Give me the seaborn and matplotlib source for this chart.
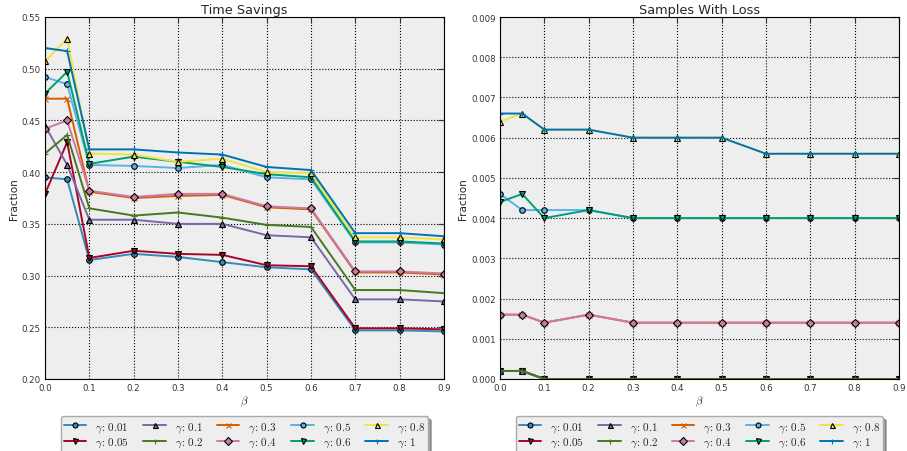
import matplotlib
matplotlib.use("Agg")
import matplotlib.pyplot as plt
import seaborn as sns
import pandas as pd

beta = [0.0, 0.05, 0.1, 0.2, 0.3, 0.4, 0.5, 0.6, 0.7, 0.8, 0.9]
gammas = ["0.01", "0.05", "0.1", "0.2", "0.3", "0.4", "0.5", "0.6", "0.8", "1"]

time_savings = {
    "0.01": [0.395, 0.393, 0.315, 0.321, 0.318, 0.313, 0.308, 0.306, 0.247, 0.247, 0.246],
    "0.05": [0.379, 0.429, 0.317, 0.324, 0.321, 0.320, 0.310, 0.309, 0.249, 0.249, 0.248],
    "0.1": [0.445, 0.407, 0.354, 0.354, 0.350, 0.350, 0.339, 0.337, 0.277, 0.277, 0.275],
    "0.2": [0.418, 0.436, 0.365, 0.358, 0.361, 0.356, 0.349, 0.347, 0.286, 0.286, 0.283],
    "0.3": [0.471, 0.471, 0.381, 0.375, 0.377, 0.378, 0.366, 0.364, 0.303, 0.303, 0.301],
    "0.4": [0.442, 0.450, 0.382, 0.376, 0.379, 0.379, 0.367, 0.365, 0.304, 0.304, 0.302],
    "0.5": [0.492, 0.485, 0.407, 0.406, 0.404, 0.407, 0.395, 0.393, 0.332, 0.332, 0.330],
    "0.6": [0.476, 0.497, 0.408, 0.415, 0.410, 0.405, 0.398, 0.395, 0.333, 0.333, 0.331],
    "0.8": [0.507, 0.529, 0.418, 0.417, 0.410, 0.413, 0.400, 0.399, 0.337, 0.337, 0.335],
    "1": [0.520, 0.517, 0.422, 0.422, 0.419, 0.417, 0.405, 0.402, 0.341, 0.341, 0.338],
}

samples_loss = {
    "0.01": [0.0002, 0.0002, 0.0, 0.0, 0.0, 0.0, 0.0, 0.0, 0.0, 0.0, 0.0],
    "0.05": [0.0002, 0.0002, 0.0, 0.0, 0.0, 0.0, 0.0, 0.0, 0.0, 0.0, 0.0],
    "0.1": [0.0002, 0.0002, 0.0, 0.0, 0.0, 0.0, 0.0, 0.0, 0.0, 0.0, 0.0],
    "0.2": [0.0002, 0.0002, 0.0, 0.0, 0.0, 0.0, 0.0, 0.0, 0.0, 0.0, 0.0],
    "0.3": [0.0016, 0.0016, 0.0014, 0.0016, 0.0014, 0.0014, 0.0014, 0.0014, 0.0014, 0.0014, 0.0014],
    "0.4": [0.0016, 0.0016, 0.0014, 0.0016, 0.0014, 0.0014, 0.0014, 0.0014, 0.0014, 0.0014, 0.0014],
    "0.5": [0.0046, 0.0042, 0.0042, 0.0042, 0.0040, 0.0040, 0.0040, 0.0040, 0.0040, 0.0040, 0.0040],
    "0.6": [0.0044, 0.0046, 0.0040, 0.0042, 0.0040, 0.0040, 0.0040, 0.0040, 0.0040, 0.0040, 0.0040],
    "0.8": [0.0064, 0.0066, 0.0062, 0.0062, 0.0060, 0.0060, 0.0060, 0.0056, 0.0056, 0.0056, 0.0056],
    "1": [0.0066, 0.0066, 0.0062, 0.0062, 0.0060, 0.0060, 0.0060, 0.0056, 0.0056, 0.0056, 0.0056],
}

colors = ["#348ABD", "#A60628", "#7A68A6", "#467821", "#D55E00",
          "#CC79A7", "#56B4E9", "#009E73", "#F0E442", "#0072B2"]
markers = ["o", "v", "^", "+", "x", "D", "o", "v", "^", "+"]


def long_df(d):
    rows = []
    for g in gammas:
        for b, v in zip(beta, d[g]):
            rows.append({"gamma": g, "beta": b, "value": v})
    return pd.DataFrame(rows)


sns.set_style("white")
plt.rcParams["mathtext.fontset"] = "cm"
plt.rcParams["font.family"] = ["DejaVu Sans"]

fig = plt.figure(figsize=(9.07, 4.52), dpi=100)
ax1 = fig.add_axes([45 / 907, 1 - 380 / 452, 399 / 907, 362 / 452])
ax2 = fig.add_axes([500 / 907, 1 - 380 / 452, 399 / 907, 362 / 452])


def draw(ax, d, title, ylim, yticks, fmt):
    df = long_df(d)
    for g, c, m in zip(gammas, colors, markers):
        sub = df[df["gamma"] == g]
        mec = c if m in ("+", "x") else "k"
        sns.lineplot(data=sub, x="beta", y="value", ax=ax, color=c, marker=m,
                     markersize=4.0, markeredgecolor=mec, markeredgewidth=0.8,
                     linewidth=1.4, label=r"$\gamma\!:\,%s$" % g)
    ax.set_facecolor("#eeeeee")
    ax.set_xlim(0, 0.9)
    ax.set_ylim(*ylim)
    ax.set_xticks([i / 10 for i in range(10)])
    ax.set_xticklabels(["%.1f" % (i / 10) for i in range(10)])
    ax.set_yticks(yticks)
    ax.set_yticklabels([fmt % t for t in yticks])
    ax.grid(True, linestyle=":", color="k", linewidth=0.8)
    ax.tick_params(direction="in", top=True, right=True, labelsize=6.2,
                   length=4, width=0.8, pad=3, colors="#333333")
    for s in ax.spines.values():
        s.set_color("k")
        s.set_linewidth(0.8)
    ax.set_title(title, fontsize=9.3, pad=3)
    ax.set_xlabel(r"$\beta$", fontsize=8, labelpad=1)
    ax.set_ylabel("Fraction", fontsize=7.5, labelpad=2)
    leg = ax.legend(loc="upper center", bbox_to_anchor=(0.5, -0.088), ncol=5,
                    fontsize=8, frameon=True, fancybox=True, shadow=True,
                    columnspacing=1.3, handletextpad=0.8, borderpad=0.3,
                    labelspacing=0.15, handlelength=2.0, markerscale=0.9)
    leg.get_frame().set_facecolor("#eeeeee")
    leg.get_frame().set_edgecolor("#aaaaaa")


draw(ax1, time_savings, "Time Savings", (0.20, 0.55),
     [0.20 + 0.05 * i for i in range(8)], "%.2f")
draw(ax2, samples_loss, "Samples With Loss", (0.0, 0.009),
     [0.001 * i for i in range(10)], "%.3f")

fig.savefig("out.png", dpi=100)
